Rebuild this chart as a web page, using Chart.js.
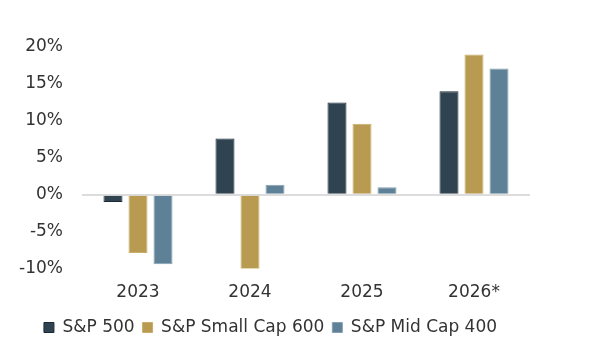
<!DOCTYPE html>
<html>
<head>
<meta charset="utf-8">
<script src="https://cdn.jsdelivr.net/npm/chart.js@4/dist/chart.umd.min.js"></script>
<style>
  html, body { margin: 0; padding: 0; background: #fff; }
  #wrap { width: 600px; height: 351px; }
</style>
</head>
<body>
<div id="wrap"><canvas id="chart"></canvas></div>
<script>
const years = ['2023', '2024', '2025', '2026*']
const sp500 = [-1.0, 7.6, 12.5, 14.0]
const smallCap600 = [-7.9, -10.1, 9.6, 19.0]
const midCap400 = [-9.4, 1.35, 1.0, 17.1]
const yTicks = [-10, -5, 0, 5, 10, 15, 20]

const font = { family: 'DejaVu Sans', size: 17 }

const ctx = document.getElementById('chart').getContext('2d')
new Chart(ctx, {
  type: 'bar',
  data: {
    labels: years,
    datasets: [
      { label: 'S&P 500', data: sp500, backgroundColor: '#2f4450', borderColor: '#1c2a38', borderWidth: 1 },
      { label: 'S&P Small Cap 600', data: smallCap600, backgroundColor: '#b89a51', borderColor: '#c9ad6a', borderWidth: 1 },
      { label: 'S&P Mid Cap 400', data: midCap400, backgroundColor: '#5f8197', borderColor: '#86a0b0', borderWidth: 1 },
    ],
  },
  options: {
    responsive: true,
    maintainAspectRatio: false,
    animation: false,
    layout: { padding: { top: 47, right: 70, left: 11, bottom: 5 } },
    datasets: { bar: { categoryPercentage: 0.67, barPercentage: 0.76 } },
    plugins: {
      tooltip: { enabled: false },
      legend: {
        position: 'bottom',
        labels: {
          font: font,
          color: '#333',
          boxWidth: 10,
          boxHeight: 10,
          padding: 8,
        },
      },
    },
    scales: {
      x: {
        grid: { display: false, drawTicks: false },
        border: { display: false },
        ticks: { font: font, color: '#333', padding: 14 },
        afterFit: axis => { axis.height -= 6 },
      },
      y: {
        min: -10,
        max: 20,
        afterBuildTicks: axis => { axis.ticks = yTicks.map(v => ({ value: v })) },
        afterFit: axis => { axis.width = 71 },
        border: { display: false },
        grid: {
          color: c => (c.tick && c.tick.value === 0 ? '#dcdcdc' : 'transparent'),
          lineWidth: 2,
          drawTicks: false,
        },
        ticks: {
          padding: 19,
          font: font,
          color: '#333',
          callback: v => v + '%',
        },
      },
    },
  },
})
</script>
</body>
</html>
